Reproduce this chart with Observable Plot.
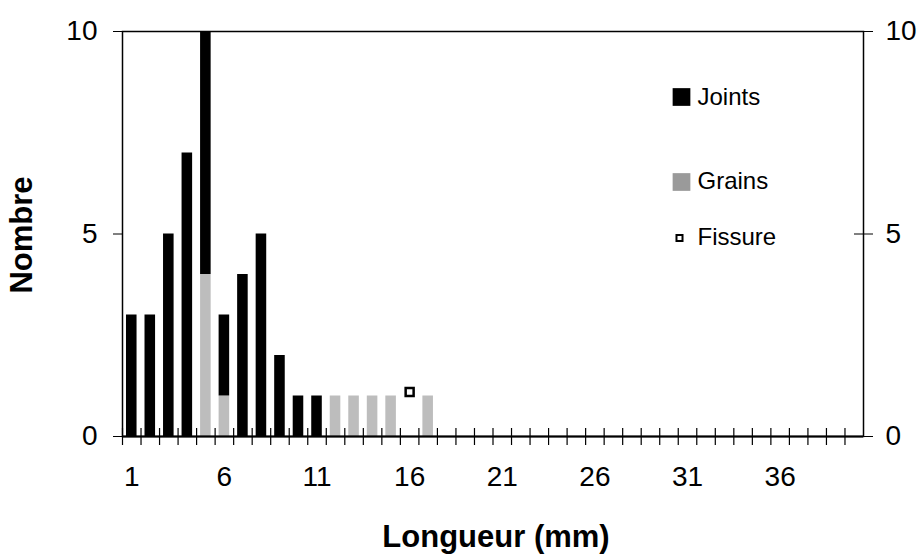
<!DOCTYPE html>
<html>
<head>
<meta charset="utf-8">
<script src="https://cdn.jsdelivr.net/npm/d3@7"></script>
<script src="https://cdn.jsdelivr.net/npm/@observablehq/plot@0.6"></script>
<style>
  html, body { margin: 0; padding: 0; background: #fff; }
  #chart { width: 923px; height: 555px; }
</style>
</head>
<body>
<div id="chart"></div>
<script>
// ---- data ----
const categories = [1,2,3,4,5,6,7,8,9,10,11,12,13,14,15,16,17,18,19,20,
                    21,22,23,24,25,26,27,28,29,30,31,32,33,34,35,36,37,38,39,40];
const joints = [3,3,5,7,6,2,4,5,2,1,1,0,0,0,0,0,0,0,0,0,
                0,0,0,0,0,0,0,0,0,0,0,0,0,0,0,0,0,0,0,0];
const grains = [0,0,0,0,4,1,0,0,0,0,0,1,1,1,1,0,1,0,0,0,
                0,0,0,0,0,0,0,0,0,0,0,0,0,0,0,0,0,0,0,0];
const fissureCategories = [16];
const fissureValues = [1.1];
const xTickLabels = [1, 6, 11, 16, 21, 26, 31, 36];
const yTicks = [0, 5, 10];
const seriesNames = ["Joints", "Grains", "Fissure"];
const xTitle = "Longueur (mm)";
const yTitle = "Nombre";

// ---- tables built from the arrays ----
const table = [
  ...categories.map((c, i) => ({cat: c, value: grains[i], series: "Grains"})),
  ...categories.map((c, i) => ({cat: c, value: joints[i], series: "Joints"}))
];
const fissure = fissureCategories.map((c, i) => ({cat: c, value: fissureValues[i]}));

const W = 923, H = 555;
const mL = 122, mR = 60, mT = 31, mB = 119;
const step = (W - mL - mR) / categories.length;

const chart = Plot.plot({
  width: W,
  height: H,
  marginLeft: mL,
  marginRight: mR,
  marginTop: mT,
  marginBottom: mB,
  style: {fontFamily: "'Liberation Sans', Arial, Helvetica, sans-serif", fontSize: "28px", color: "#000", background: "#fff"},
  x: {type: "band", domain: categories, paddingInner: 0.43, paddingOuter: 0.215, round: false, label: null},
  y: {domain: [0, 10], label: null},
  color: {domain: ["Joints", "Grains"], range: ["#000000", "#bdbdbd"]},
  marks: [
    Plot.barY(table, {x: "cat", y: "value", fill: "series", order: ["Grains", "Joints"]}),
    Plot.frame({stroke: "#000", strokeWidth: 1.5}),
    Plot.ruleY([0], {stroke: "#000", strokeWidth: 2.2}),
    // crossing ticks at category boundaries
    Plot.axisX({ticks: categories, tickSize: 17, dy: -8, dx: -step / 2, tickFormat: () => "", strokeWidth: 1.2, label: null}),
    // labels every 5 categories
    Plot.axisX({ticks: xTickLabels, tickSize: 0, tickPadding: 30, fontSize: 28, label: null}),
    Plot.axisY({anchor: "left", ticks: yTicks, tickSize: 9, tickPadding: 16, fontSize: 28, label: null}),
    Plot.axisY({anchor: "right", ticks: yTicks, tickSize: 19, dx: -10, tickPadding: 13, fontSize: 28, label: null}),
    // Fissure marker
    Plot.dot(fissure, {x: "cat", y: "value", symbol: "square", r: 4.5, fill: "#fff", stroke: "#000", strokeWidth: 2.5}),
    // axis titles
    Plot.text([xTitle], {text: d => d, frameAnchor: "bottom", dx: 3, dy: 110, lineAnchor: "bottom", textAnchor: "middle", fontSize: 31, fontWeight: "bold"}),
    Plot.text([yTitle], {text: d => d, frameAnchor: "left", rotate: -90, dx: -100, dy: 1, textAnchor: "middle", lineAnchor: "middle", fontSize: 31, fontWeight: "bold"}),
    // legend
    Plot.dot([seriesNames[0]], {frameAnchor: "top-left", dx: 559, dy: 65.5, symbol: "square", r: 10, fill: d => d}),
    Plot.text([seriesNames[0]], {text: d => d, frameAnchor: "top-left", dx: 575, dy: 66, textAnchor: "start", lineAnchor: "middle", fontSize: 24}),
    Plot.dot([seriesNames[1]], {frameAnchor: "top-left", dx: 559, dy: 150.5, symbol: "square", r: 10, fill: "#9a9a9a"}),
    Plot.text([seriesNames[1]], {text: d => d, frameAnchor: "top-left", dx: 575, dy: 150, textAnchor: "start", lineAnchor: "middle", fontSize: 24}),
    Plot.dot([seriesNames[2]], {frameAnchor: "top-left", dx: 557, dy: 206.5, symbol: "square", r: 3.4, fill: "#fff", stroke: "#000", strokeWidth: 2}),
    Plot.text([seriesNames[2]], {text: d => d, frameAnchor: "top-left", dx: 575, dy: 206, textAnchor: "start", lineAnchor: "middle", fontSize: 24})
  ]
});
document.getElementById("chart").append(chart);
</script>
</body>
</html>
